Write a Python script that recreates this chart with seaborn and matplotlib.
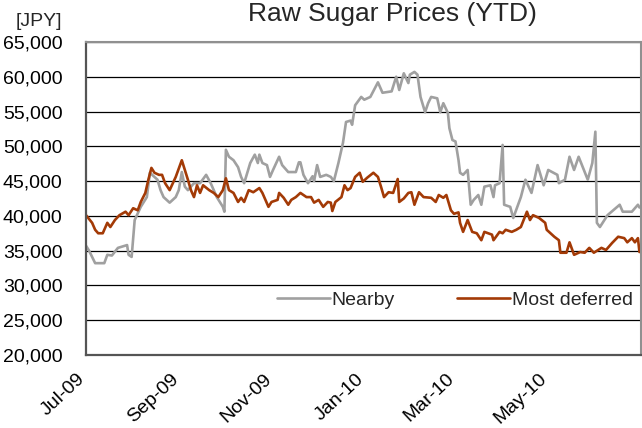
import pandas as pd
import matplotlib
matplotlib.use("Agg")
import matplotlib.pyplot as plt
import matplotlib.dates as mdates
import matplotlib.ticker as mticker
import matplotlib.transforms as mtransforms
import seaborn as sns

# Nearby contract (JPY / t)
nearby_dates = [
    "2009-07-01", "2009-07-03", "2009-07-07", "2009-07-13", "2009-07-15", "2009-07-18",
    "2009-07-22", "2009-07-28", "2009-07-29", "2009-07-31", "2009-08-02", "2009-08-06",
    "2009-08-10", "2009-08-12", "2009-08-13", "2009-08-17", "2009-08-19", "2009-08-21",
    "2009-08-25", "2009-08-29", "2009-08-31", "2009-09-02", "2009-09-04", "2009-09-06",
    "2009-09-10", "2009-09-14", "2009-09-18", "2009-09-21", "2009-09-25", "2009-09-29",
    "2009-09-30", "2009-10-01", "2009-10-03", "2009-10-06", "2009-10-09", "2009-10-11",
    "2009-10-13", "2009-10-17", "2009-10-20", "2009-10-22", "2009-10-23", "2009-10-25",
    "2009-10-28", "2009-10-30", "2009-11-01", "2009-11-05", "2009-11-07", "2009-11-11",
    "2009-11-16", "2009-11-18", "2009-11-19", "2009-11-21", "2009-11-24", "2009-11-27",
    "2009-11-28", "2009-11-30", "2009-12-02", "2009-12-06", "2009-12-09", "2009-12-11",
    "2009-12-14", "2009-12-17", "2009-12-19", "2009-12-22", "2009-12-23", "2009-12-25",
    "2009-12-29", "2009-12-31", "2010-01-04", "2010-01-09", "2010-01-12", "2010-01-18",
    "2010-01-21", "2010-01-23", "2010-01-26", "2010-01-29", "2010-01-30", "2010-02-02",
    "2010-02-04", "2010-02-06", "2010-02-09", "2010-02-11", "2010-02-13", "2010-02-17",
    "2010-02-19", "2010-02-21", "2010-02-24", "2010-02-25", "2010-02-27", "2010-03-01",
    "2010-03-03", "2010-03-04", "2010-03-06", "2010-03-09", "2010-03-11", "2010-03-13",
    "2010-03-16", "2010-03-18", "2010-03-20", "2010-03-24", "2010-03-26", "2010-03-27",
    "2010-03-30", "2010-04-01", "2010-04-02", "2010-04-06", "2010-04-08", "2010-04-13",
    "2010-04-16", "2010-04-20", "2010-04-24", "2010-04-28", "2010-05-01", "2010-05-07",
    "2010-05-08", "2010-05-12", "2010-05-15", "2010-05-18", "2010-05-21", "2010-05-27",
    "2010-05-30", "2010-06-01", "2010-06-02", "2010-06-04", "2010-06-09", "2010-06-17",
    "2010-06-19", "2010-06-25", "2010-06-29", "2010-06-30",
]
nearby_prices = [
    35700, 35000, 33200, 33200, 34400, 34300,
    35400, 35800, 34400, 34100, 39400, 41300,
    42700, 46200, 46000, 45200, 43700, 42700,
    41900, 42700, 43700, 46300, 44200, 43700,
    44700, 44700, 45900, 44700, 42700, 41300,
    40600, 49500, 48500, 48000, 47000, 45600,
    44700, 47600, 48800, 47600, 48800, 47600,
    47300, 45600, 46600, 48500, 47300, 46300,
    46300, 47700, 47700, 45900, 44700, 45700,
    45000, 47300, 45600, 45900, 45600, 45000,
    47600, 50500, 53500, 53700, 53100, 55900,
    57100, 56700, 57100, 59200, 57700, 57900,
    60000, 58100, 60500, 59100, 60300, 60700,
    60300, 57100, 54900, 56200, 57100, 56900,
    54900, 56200, 54800, 52600, 50900, 50700,
    48000, 46200, 45900, 46600, 41600, 42300,
    43000, 41600, 44200, 44400, 42700, 44400,
    44700, 50200, 41600, 41300, 39700, 42700,
    45200, 43300, 47300, 44400, 46600, 45900,
    44700, 45200, 48500, 46600, 48500, 45200,
    47600, 52100, 39000, 38400, 40100, 41600,
    40600, 40600, 41600, 41200,
]

# Most deferred contract (JPY / t)
deferred_dates = [
    "2009-07-01", "2009-07-05", "2009-07-07", "2009-07-09", "2009-07-12", "2009-07-15",
    "2009-07-17", "2009-07-20", "2009-07-23", "2009-07-27", "2009-07-29", "2009-08-01",
    "2009-08-04", "2009-08-06", "2009-08-09", "2009-08-11", "2009-08-13", "2009-08-15",
    "2009-08-18", "2009-08-20", "2009-08-22", "2009-08-25", "2009-08-29", "2009-09-02",
    "2009-09-06", "2009-09-08", "2009-09-10", "2009-09-12", "2009-09-14", "2009-09-16",
    "2009-09-20", "2009-09-23", "2009-09-26", "2009-09-29", "2009-10-01", "2009-10-03",
    "2009-10-06", "2009-10-09", "2009-10-11", "2009-10-13", "2009-10-16", "2009-10-19",
    "2009-10-23", "2009-10-25", "2009-10-29", "2009-10-31", "2009-11-04", "2009-11-05",
    "2009-11-08", "2009-11-11", "2009-11-13", "2009-11-16", "2009-11-19", "2009-11-23",
    "2009-11-26", "2009-11-28", "2009-12-01", "2009-12-04", "2009-12-07", "2009-12-09",
    "2009-12-10", "2009-12-12", "2009-12-16", "2009-12-18", "2009-12-20", "2009-12-22",
    "2009-12-25", "2009-12-28", "2009-12-30", "2010-01-02", "2010-01-06", "2010-01-09",
    "2010-01-11", "2010-01-13", "2010-01-16", "2010-01-19", "2010-01-22", "2010-01-23",
    "2010-01-26", "2010-01-29", "2010-01-31", "2010-02-02", "2010-02-05", "2010-02-08",
    "2010-02-13", "2010-02-16", "2010-02-18", "2010-02-21", "2010-02-23", "2010-02-26",
    "2010-02-28", "2010-03-03", "2010-03-04", "2010-03-06", "2010-03-09", "2010-03-12",
    "2010-03-15", "2010-03-18", "2010-03-20", "2010-03-25", "2010-03-26", "2010-03-30",
    "2010-04-01", "2010-04-03", "2010-04-07", "2010-04-10", "2010-04-13", "2010-04-17",
    "2010-04-19", "2010-04-21", "2010-04-25", "2010-04-29", "2010-04-30", "2010-05-05",
    "2010-05-08", "2010-05-09", "2010-05-13", "2010-05-15", "2010-05-18", "2010-05-22",
    "2010-05-25", "2010-05-28", "2010-05-31", "2010-06-05", "2010-06-08", "2010-06-12",
    "2010-06-16", "2010-06-20", "2010-06-22", "2010-06-25", "2010-06-27", "2010-06-29",
    "2010-06-30",
]
deferred_prices = [
    40100, 39000, 38000, 37500, 37500, 39000,
    38400, 39400, 40100, 40600, 40100, 41100,
    40800, 42000, 43300, 45200, 46900, 46200,
    45900, 45900, 44700, 43700, 45600, 48000,
    45200, 43700, 42700, 44400, 43300, 44400,
    43700, 43300, 42700, 43700, 45400, 43700,
    43300, 42000, 42600, 42000, 43700, 43400,
    44000, 43300, 41300, 42000, 42300, 43300,
    42600, 41600, 42300, 42700, 43300, 42700,
    42700, 41900, 42300, 41300, 42000, 41900,
    40700, 42000, 42700, 44400, 43700, 44000,
    45600, 46200, 44900, 45500, 46200, 45600,
    44200, 42700, 43400, 43300, 45300, 42000,
    42500, 43300, 43400, 41600, 43400, 42700,
    42600, 42000, 43000, 42600, 43000, 40800,
    40300, 40500, 39000, 37700, 39400, 37700,
    37500, 36500, 37700, 37300, 36500, 37700,
    37500, 38000, 37700, 38000, 38400, 40600,
    39400, 40100, 39700, 39000, 38000, 37000,
    36500, 34700, 34700, 36200, 34400, 34800,
    34700, 35400, 34700, 35400, 35100, 36100,
    37000, 36800, 36200, 36800, 36200, 36800,
    34800,
]

series_names = ["Nearby", "Most deferred"]
series_colors = ["#a0a0a0", "#a33a06"]
y_ticks = list(range(20000, 65001, 5000))
x_tick_dates = ["2009-07-01", "2009-09-01", "2009-11-01", "2010-01-01", "2010-03-01", "2010-05-01"]

df = pd.concat([
    pd.DataFrame({"Date": pd.to_datetime(nearby_dates), "Price": nearby_prices, "Series": series_names[0]}),
    pd.DataFrame({"Date": pd.to_datetime(deferred_dates), "Price": deferred_prices, "Series": series_names[1]}),
])

sns.set_theme(style="white")
plt.rcParams["font.family"] = ["Liberation Sans", "DejaVu Sans"]

fig = plt.figure(figsize=(6.42, 4.28), dpi=100)
ax = fig.add_axes([0.134, 0.1706, 0.8644, 0.7313])

sns.lineplot(data=df, x="Date", y="Price", hue="Series", hue_order=series_names,
             palette=dict(zip(series_names, series_colors)), linewidth=1.9,
             estimator=None, ax=ax)

ax.set_ylim(20000, 65000)
ax.set_yticks(y_ticks)
ax.yaxis.set_major_formatter(mticker.StrMethodFormatter("{x:,.0f}"))
ax.set_xlim(pd.Timestamp("2009-07-01"), pd.Timestamp("2010-07-01"))
ax.set_xticks(pd.to_datetime(x_tick_dates))
ax.xaxis.set_major_formatter(mdates.DateFormatter("%b-%y"))
ax.set_xlabel("")
ax.set_ylabel("")

ax.yaxis.grid(True, color="black", linewidth=0.9)
ax.set_axisbelow(True)

ax.tick_params(axis="y", length=0, labelsize=14, pad=17, colors="black")
ax.tick_params(axis="x", direction="in", length=5, width=1, color="#404040",
               labelsize=14, pad=11, labelcolor="black")
shift = mtransforms.ScaledTranslation(-7 / 72, 0, fig.dpi_scale_trans)
for lbl in ax.get_xticklabels():
    lbl.set_rotation(43)
    lbl.set_ha("right")
    lbl.set_rotation_mode("anchor")
    lbl.set_transform(lbl.get_transform() + shift)

for side in ["left", "bottom"]:
    ax.spines[side].set_color("#555555")
    ax.spines[side].set_linewidth(1.6)
for side in ["top", "right"]:
    ax.spines[side].set_color("#909090")
    ax.spines[side].set_linewidth(1.5)

handles, labels = ax.get_legend_handles_labels()
ax.legend(handles, labels, loc="center", bbox_to_anchor=(0.665, 0.175), ncol=2,
          frameon=False, fontsize=14, handlelength=2.7, handletextpad=0.1,
          columnspacing=3.2)

fig.text(392 / 642, 1 - 21 / 428, "Raw Sugar Prices (YTD)", ha="center",
         va="baseline", fontsize=19)
fig.text(39 / 642, 1 - 21 / 428, "[JPY]", ha="center", va="center", fontsize=14)

fig.savefig("out.png", dpi=100)
